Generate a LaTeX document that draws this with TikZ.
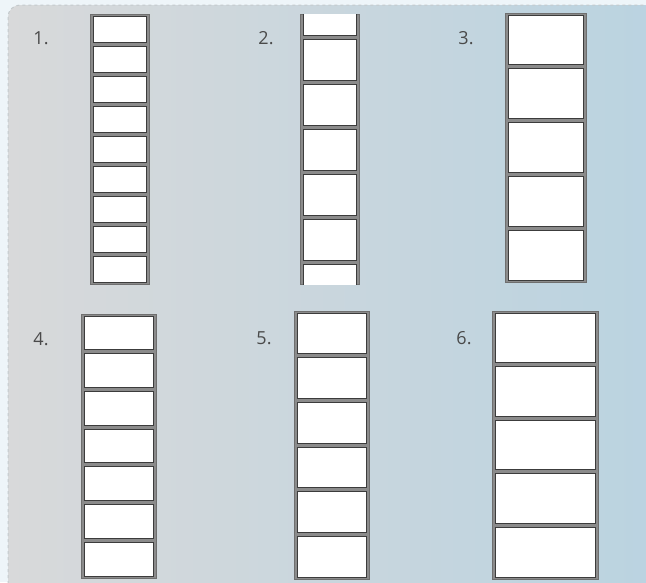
\documentclass[tikz,border=0pt]{standalone}
\usepackage{fontspec}
\setmainfont{Open Sans}
\usepackage{xcolor}
\usepackage{tikz}
\usetikzlibrary{positioning}

\definecolor{outerbg}{HTML}{EEF5F9}
\definecolor{panelleft}{HTML}{D8D9DA}
\definecolor{panelright}{HTML}{B9D3E1}
\definecolor{panelrim}{HTML}{C4CACD}
\definecolor{stripgray}{HTML}{8B8B8B}
\definecolor{cellrim}{HTML}{3C3C3C}
\definecolor{labelgray}{HTML}{4A4A4A}

% one column of boxes: name, left, right, top, bottom, count
\newcommand{\cellcol}[6]{%
  \node[strip, minimum width={#3-#2}, minimum height={#5-#4}, anchor=north west] (#1) at (#2,#4) {};
  \pgfmathsetmacro{\pitch}{(#5-#4)/#6}
  \foreach \k in {1,...,#6}{
    \node[cell, minimum width={#3-#2-6}, minimum height={\pitch-4}, anchor=north] (#1-\k) at ({(#2+#3)/2},{#4+2+(\k-1)*\pitch}) {};
  }
}

\begin{document}
\begin{tikzpicture}[
  x=1pt, y=-1pt,
  strip/.style={fill=stripgray, draw=stripgray!80!black, line width=0.6pt, inner sep=0pt, outer sep=0pt},
  cell/.style={fill=white, draw=cellrim, line width=0.9pt, inner sep=0pt, outer sep=0pt},
  num/.style={text=labelgray, font=\fontsize{18}{20}\selectfont, inner sep=0pt}
]
\useasboundingbox (0,0) rectangle (646,582);
\fill[outerbg] (0,0) rectangle (646,582);
\shade[left color=panelleft, right color=panelright, rounded corners=12pt] (8,5) rectangle (680,620);
\draw[panelrim, dashed, line width=1pt, rounded corners=12pt] (8,620) -- (8,5) -- (680,5);

% numbers
\node[num] (n1) at (41,38) {1.};
\node[num] (n2) at (266,38) {2.};
\node[num] (n3) at (466,38) {3.};
\node[num] (n4) at (41,339) {4.};
\node[num] (n5) at (264,338) {5.};
\node[num] (n6) at (464,338) {6.};

% top row
\cellcol{colA}{90}{149}{14}{284}{9}
\begin{scope}
  \clip (299,14) rectangle (360,284);
  \node[strip, minimum width=59, minimum height=270, anchor=north west] (colB) at (300,14) {};
  \foreach \k in {0,...,6}{
    \node[cell, minimum width=53, minimum height=41, anchor=north] (colB-\k) at (329.5,{-6+45*\k}) {};
  }
\end{scope}
\cellcol{colC}{505}{586}{13}{282}{5}

% bottom row
\cellcol{colD}{81}{156}{314}{578}{7}
\cellcol{colE}{294}{369}{311}{579}{6}
\cellcol{colF}{492}{598}{311}{579}{5}
\end{tikzpicture}
\end{document}
